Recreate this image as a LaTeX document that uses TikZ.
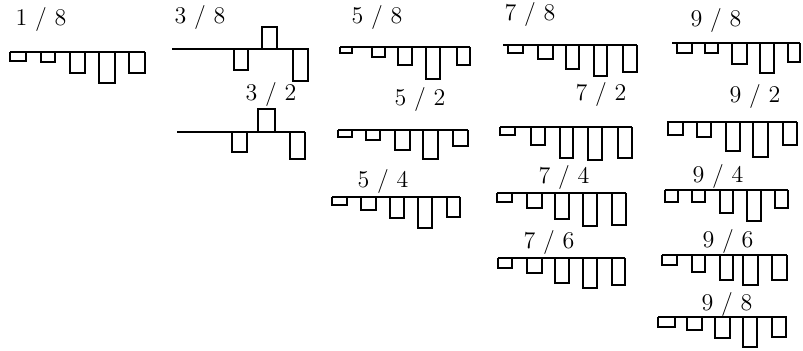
\documentclass[tikz,border=0pt]{standalone}
\usepackage{tikz}

\begin{document}
\begin{tikzpicture}[x=0.5pt, y=-0.5pt, spec/.style={line width=1.3pt}, ratio/.style={font=\large, inner sep=0pt}]
  \useasboundingbox (0,0) rectangle (803,351);

  % 1/8
  \node[ratio] (r18) at (41,20) {1 / 8};
  \draw[spec] (10,52) -- (145,52);
  \foreach \a/\b/\d in {10/26/61, 41/55/62, 70/85/73, 99/115/83, 129/145/73}
    \draw[spec] (\a,52) |- (\b,\d) -- (\b,52);

  % 3/8 (one bar above the line)
  \node[ratio] (r38) at (200,18) {3 / 8};
  \draw[spec] (172,49) -- (309,49);
  \foreach \a/\b/\d in {234/248/70, 262/277/27, 293/308/81}
    \draw[spec] (\a,49) |- (\b,\d) -- (\b,49);

  % 3/2
  \node[ratio] (r32) at (271,95) {3 / 2};
  \draw[spec] (177,132) -- (305,132);
  \foreach \a/\b/\d in {232/247/152, 258/275/109, 290/305/159}
    \draw[spec] (\a,132) |- (\b,\d) -- (\b,132);

  % 5/8
  \node[ratio] (r58) at (377,18) {5 / 8};
  \draw[spec] (340,47) -- (470,47);
  \foreach \a/\b/\d in {340/352/53, 372/385/57, 398/412/65, 426/440/79, 457/470/65}
    \draw[spec] (\a,47) |- (\b,\d) -- (\b,47);

  % 5/2
  \node[ratio] (r52) at (420,100) {5 / 2};
  \draw[spec] (338,130) -- (468,130);
  \foreach \a/\b/\d in {338/352/137, 366/380/140, 395/410/150, 423/438/159, 453/468/146}
    \draw[spec] (\a,130) |- (\b,\d) -- (\b,130);

  % 5/4
  \node[ratio] (r54) at (383,182) {5 / 4};
  \draw[spec] (332,197) -- (460,197);
  \foreach \a/\b/\d in {332/347/205, 361/376/210, 390/404/218, 418/432/228, 447/460/217}
    \draw[spec] (\a,197) |- (\b,\d) -- (\b,197);

  % 7/8
  \node[ratio] (r78) at (530,15) {7 / 8};
  \draw[spec] (503,45) -- (637,45);
  \foreach \a/\b/\d in {508/523/53, 538/553/59, 566/579/69, 594/607/76, 623/637/72}
    \draw[spec] (\a,45) |- (\b,\d) -- (\b,45);

  % 7/2
  \node[ratio] (r72) at (601,95) {7 / 2};
  \draw[spec] (500,127) -- (632,127);
  \foreach \a/\b/\d in {500/515/135, 531/545/145, 560/573/158, 588/602/160, 618/632/158}
    \draw[spec] (\a,127) |- (\b,\d) -- (\b,127);

  % 7/4
  \node[ratio] (r74) at (564,178) {7 / 4};
  \draw[spec] (497,193) -- (626,193);
  \foreach \a/\b/\d in {497/512/202, 527/542/208, 555/569/219, 583/597/226, 612/626/225}
    \draw[spec] (\a,193) |- (\b,\d) -- (\b,193);

  % 7/6
  \node[ratio] (r76) at (549,243) {7 / 6};
  \draw[spec] (498,258) -- (625,258);
  \foreach \a/\b/\d in {498/512/268, 527/542/273, 555/569/283, 583/597/288, 612/625/285}
    \draw[spec] (\a,258) |- (\b,\d) -- (\b,258);

  % 9/8 (top)
  \node[ratio] (r98a) at (716,21) {9 / 8};
  \draw[spec] (672,43) -- (800,43);
  \foreach \a/\b/\d in {677/692/53, 705/718/53, 732/747/64, 760/774/73, 788/800/62}
    \draw[spec] (\a,43) |- (\b,\d) -- (\b,43);

  % 9/2
  \node[ratio] (r92) at (755,97) {9 / 2};
  \draw[spec] (667,122) -- (797,122);
  \foreach \a/\b/\d in {668/683/135, 697/711/137, 726/740/151, 753/768/157, 783/797/145}
    \draw[spec] (\a,122) |- (\b,\d) -- (\b,122);

  % 9/4
  \node[ratio] (r94) at (718,177) {9 / 4};
  \draw[spec] (665,190) -- (788,190);
  \foreach \a/\b/\d in {665/678/202, 692/705/202, 720/733/213, 747/761/221, 775/788/208}
    \draw[spec] (\a,190) |- (\b,\d) -- (\b,190);

  % 9/6
  \node[ratio] (r96) at (728,242) {9 / 6};
  \draw[spec] (662,255) -- (787,255);
  \foreach \a/\b/\d in {662/677/265, 692/705/272, 720/733/280, 743/758/285, 772/787/280}
    \draw[spec] (\a,255) |- (\b,\d) -- (\b,255);

  % 9/8 (bottom)
  \node[ratio] (r98b) at (727,305) {9 / 8};
  \draw[spec] (658,317) -- (787,317);
  \foreach \a/\b/\d in {658/675/327, 687/702/330, 715/730/338, 743/757/347, 772/786/337}
    \draw[spec] (\a,317) |- (\b,\d) -- (\b,317);
\end{tikzpicture}
\end{document}
